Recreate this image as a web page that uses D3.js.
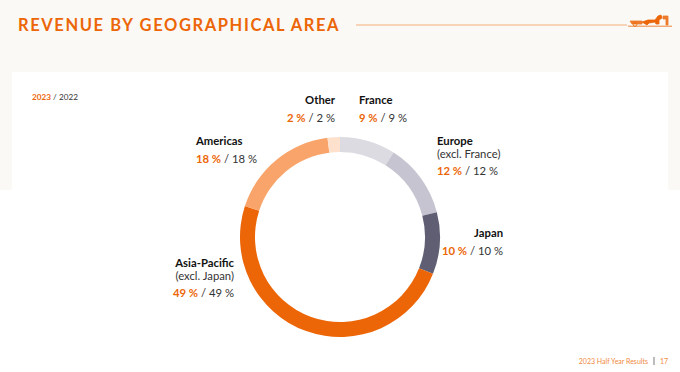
<!DOCTYPE html>
<html><head><meta charset="utf-8">
<script src="https://cdn.jsdelivr.net/npm/d3@7"></script>
<style>
html,body{margin:0;padding:0;background:#fff;}
text{font-family:Lato,"Noto Sans",sans-serif;}
</style></head>
<body><svg id="c" width="680" height="372"></svg>
<script>
// ---- data ----
const regions = ["France","Europe","Japan","Asia-Pacific","Americas","Other"];
const subLabels = ["","(excl. France)","","(excl. Japan)","",""];
const share2023 = [9,12,10,49,18,2];
const share2022 = [9,12,10,49,18,2];
const titleText = "REVENUE BY GEOGRAPHICAL AREA";
const yearCurrent = "2023", yearPrevious = "2022";
const footerText = "2023 Half Year Results";
const pageNumber = "17";

// ---- style / layout ----
const colors = ["#dcdbe1","#c5c4d0","#5f5e72","#ec6608","#f9a46b","#fde1cd"];
const orange = "#ec6608", dark = "#333";
// label anchors: [x, y(first line baseline), anchor]
const labelLayout = [
  [359,104,"start"],
  [437,145,"start"],
  [503,237,"end"],
  [234,267,"end"],
  [196,145,"start"],
  [335,104,"end"]
];

const svg = d3.select("#c");
svg.append("rect").attr("width",680).attr("height",190).attr("fill","#faf9f5");
svg.append("rect").attr("x",12).attr("y",72).attr("width",656).attr("height",130).attr("fill","#fff");

// title
svg.append("text").attr("x",18).attr("y",31).text(titleText)
  .attr("fill",orange).attr("font-size",16.5).attr("font-weight",700)
  .attr("letter-spacing",1.6);
svg.append("line").attr("x1",356).attr("x2",627).attr("y1",25).attr("y2",25)
  .attr("stroke","#f6c6a3").attr("stroke-width",1.3);
// small logo mark (carriage)
const logo = svg.append("g").attr("fill",orange).attr("stroke",orange).attr("stroke-width",0.8)
  .attr("transform","translate(628,12)");
logo.append("path").attr("d","M2,9 L14,9 L14,12 L4,12 Z").attr("opacity",0.85);
logo.append("path").attr("d","M14,10 L20,8 L27,8 L30,4 L33,3 L34,6 L31,8 L31,12 L28,12 L27,10 L21,11 L19,13 Z");
logo.append("path").attr("d","M35,4 L40,4 L40,13 L38,13 L38,7 L35,7 Z").attr("opacity",0.85);
logo.append("circle").attr("cx",7).attr("cy",12.5).attr("r",1.8).attr("fill","none");
logo.append("line").attr("x1",0).attr("x2",44).attr("y1",14.2).attr("y2",14.2);

// year legend
const yl = svg.append("text").attr("x",32).attr("y",99.5).attr("font-size",8.2);
yl.append("tspan").text(yearCurrent).attr("fill",orange).attr("font-weight",700);
yl.append("tspan").text(" / "+yearPrevious).attr("fill",dark);

// donut
const cx = 340, cy = 237, rOuter = 100, rInner = 85;
const pie = d3.pie().sort(null).value(d=>d).startAngle(0).endAngle(2*Math.PI);
const arcs = pie(share2023);
const arc = d3.arc().innerRadius(rInner).outerRadius(rOuter);
svg.append("g").attr("transform",`translate(${cx},${cy})`)
  .selectAll("path").data(arcs).join("path")
  .attr("d",arc).attr("fill",(d,i)=>colors[i]);

// labels
regions.forEach((name,i)=>{
  const [x,y,anchor] = labelLayout[i];
  const g = svg.append("g").attr("text-anchor",anchor);
  g.append("text").attr("x",x).attr("y",y).text(name)
    .attr("font-size",11.3).attr("font-weight",700).attr("fill","#111");
  let yy = y;
  if(subLabels[i]){
    yy += 13;
    g.append("text").attr("x",x).attr("y",yy).text(subLabels[i])
      .attr("font-size",11.3).attr("fill",dark);
  }
  yy += (subLabels[i] ? 17 : 18);
  const t = g.append("text").attr("x",x).attr("y",yy).attr("font-size",11.3);
  t.append("tspan").text(share2023[i]+" %").attr("fill",orange).attr("font-weight",700);
  t.append("tspan").text(" / "+share2022[i]+" %").attr("fill",dark);
});

// footer
svg.append("text").attr("x",648).attr("y",364).attr("text-anchor","end")
  .attr("font-size",7).attr("fill","#f08a3e").text(footerText);
svg.append("line").attr("x1",654).attr("x2",654).attr("y1",357).attr("y2",365)
  .attr("stroke","#555").attr("stroke-width",0.8);
svg.append("text").attr("x",668).attr("y",364).attr("text-anchor","end")
  .attr("font-size",7).attr("fill","#f08a3e").text(pageNumber);
</script></body></html>
